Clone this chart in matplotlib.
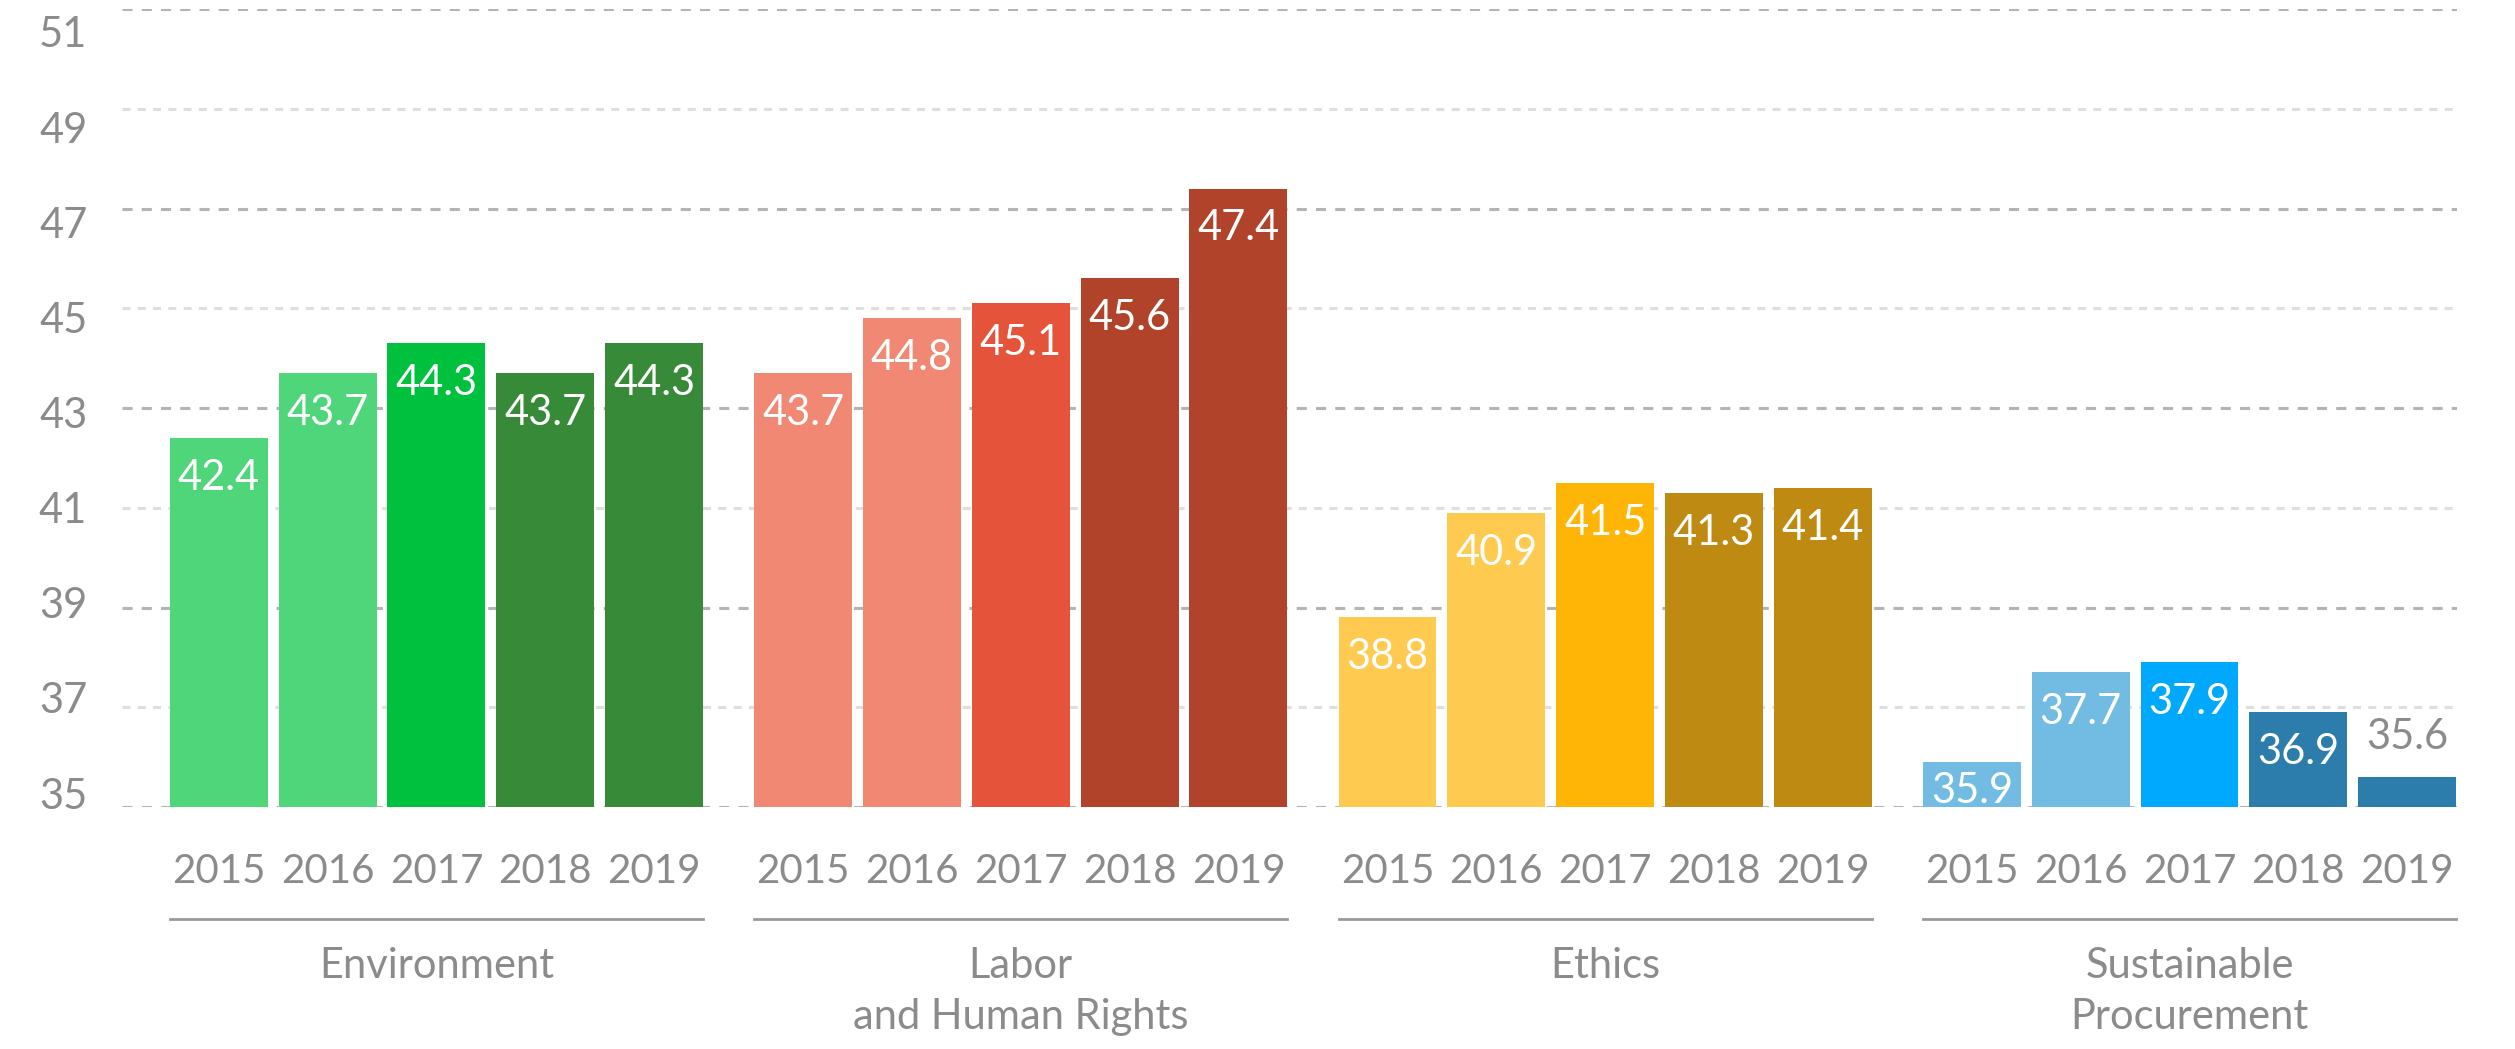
import matplotlib
matplotlib.use("Agg")
import matplotlib.pyplot as plt
import numpy as np

plt.rcParams['font.family'] = ['Lato', 'DejaVu Sans']

# scores by category, 2015-2019
years = ['2015', '2016', '2017', '2018', '2019']
categories = ['Environment', 'Labor\nand Human Rights', 'Ethics', 'Sustainable\nProcurement']
environment = [42.4, 43.7, 44.3, 43.7, 44.3]
labor = [43.7, 44.8, 45.1, 45.6, 47.4]
ethics = [38.8, 40.9, 41.5, 41.3, 41.4]
procurement = [35.9, 37.7, 37.9, 36.9, 35.6]

colors = [
    ['#4fd67a', '#4fd67a', '#00c13e', '#378a37', '#378a37'],
    ['#f08873', '#f08873', '#e5533b', '#b1432b', '#b1432b'],
    ['#fecb50', '#fecb50', '#feb506', '#bf8a12', '#bf8a12'],
    ['#72bce4', '#72bce4', '#00a8fe', '#2c7dab', '#2c7dab'],
]

GRAY = '#8b8b8b'
BASE = 35
group_step = 5.37
bar_w = 0.9

fig = plt.figure(figsize=(25.15, 10.49), dpi=100)
ax = fig.add_axes([0.0485, 0.2307, 0.9285, 0.7607])

# dashed grid, alternating shades
for t in range(35, 52, 2):
    if (t - 35) % 4 == 0:
        ax.axhline(t, color='#b4b4b4', lw=2.2, linestyle=(0, (3.3, 3.0)), zorder=0)
    else:
        ax.axhline(t, color='#dedede', lw=2.2, linestyle=(0, (2.6, 2.4)), zorder=0)

all_x = []
for g, vals in enumerate([environment, labor, ethics, procurement]):
    xs = g * group_step + np.arange(len(years))
    all_x.extend(xs)
    ax.bar(xs, np.array(vals) - BASE, bottom=BASE, width=bar_w, color=colors[g], zorder=2)
    for x, v in zip(xs, vals):
        h = v - BASE
        if h < 0.8:
            # too short: value goes above the bar
            ax.annotate(f'{v:.1f}', (x, v), xytext=(0, 15), textcoords='offset points',
                        ha='center', va='bottom', color=GRAY, fontsize=30, zorder=3)
        else:
            off = -15 if h > 1.2 else -7
            ax.annotate(f'{v:.1f}', (x, v), xytext=(0, off), textcoords='offset points',
                        ha='center', va='top', color='white', fontsize=30, zorder=3)

    # underline and category name
    x0 = xs[0] - bar_w / 2
    x1 = xs[-1] + bar_w / 2
    ax.plot([x0, x1], [-0.140, -0.140], color='#9a9a9a', lw=2.0,
            transform=ax.get_xaxis_transform(), clip_on=False)
    ax.text((x0 + x1) / 2, -0.176, categories[g], transform=ax.get_xaxis_transform(),
            ha='center', va='top', color=GRAY, fontsize=30, linespacing=1.4)

ax.set_xlim(-0.89, 20.57)
ax.set_ylim(35, 51)
ax.set_xticks(all_x)
ax.set_xticklabels(years * 4)
ax.tick_params(axis='x', length=0, pad=33, labelsize=29, labelcolor=GRAY)
ax.set_yticks([])
for s in ax.spines.values():
    s.set_visible(False)

# value axis labels
ax2 = ax.twinx()
ax2.set_ylim(34.706, 51.482)
ax2.yaxis.tick_left()
ax2.set_yticks(range(35, 52, 2))
ax2.tick_params(axis='y', length=0, pad=25, labelsize=30, labelcolor=GRAY)
for s in ax2.spines.values():
    s.set_visible(False)

fig.savefig('out.png', dpi=100)
